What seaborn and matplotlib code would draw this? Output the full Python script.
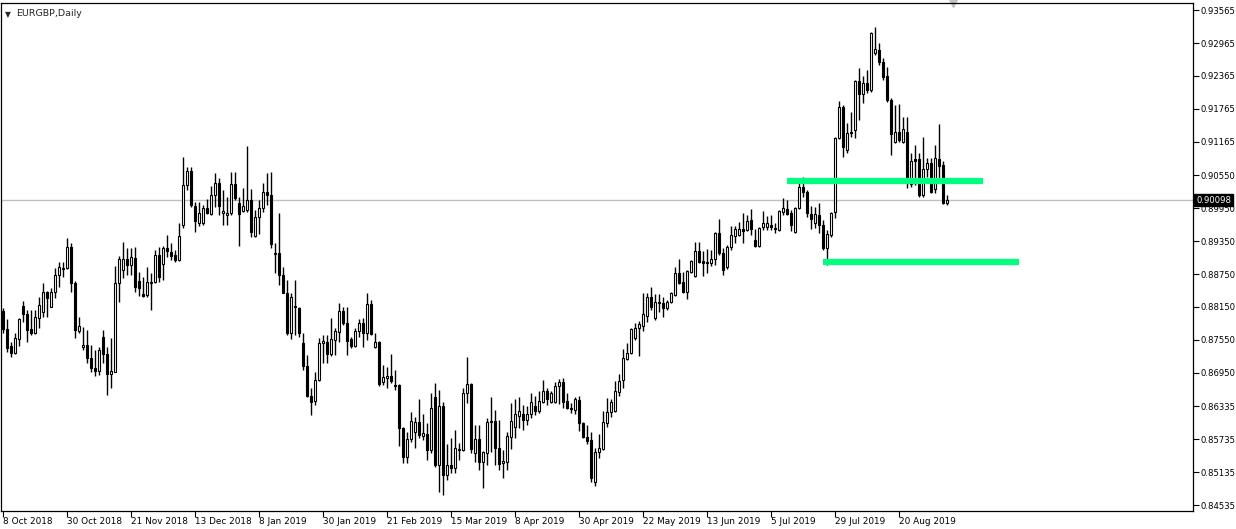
import numpy as np
import pandas as pd
import matplotlib
matplotlib.use("Agg")
import matplotlib.pyplot as plt
import matplotlib.transforms as mtransforms
import seaborn as sns

# EURGBP daily candles, 8 Oct 2018 .. early Sep 2019
opens = [
    .8808, .8775, .8744, .8731, .8757, .8817, .8802, .8775, .8768, .8795,
    .8806, .8842, .8815, .8842, .8873, .8884, .8886, .8924, .8859, .8771,
    .8742, .8746, .8722, .8704, .8698, .8760, .8729, .8693, .8696, .8859,
    .8883, .8903, .8892, .8904, .8862, .8839, .8837, .8859, .8861, .8910,
    .8893, .8923, .8915, .8910, .8901, .8965, .9038, .9063, .8999, .8968,
    .8968, .8996, .8985, .9019, .9041, .8986, .8983, .8986, .9039, .9005,
    .8990, .8992, .9010, .8945, .8979, .8996, .9025, .9019, .8914, .8914,
    .8873, .8841, .8768, .8817, .8813, .8749, .8707, .8653, .8644, .8682,
    .8749, .8751, .8729, .8755, .8769, .8808, .8786, .8757, .8744, .8771,
    .8786, .8768, .8820, .8742, .8751, .8678, .8685, .8689, .8673, .8673,
    .8594, .8541, .8574, .8587, .8605, .8580, .8583, .8554, .8651, .8527,
    .8634, .8509, .8527, .8521, .8554, .8554, .8658, .8675, .8549, .8574,
    .8532, .8549, .8605, .8607, .8558, .8530, .8532, .8578, .8596, .8616,
    .8620, .8609, .8620, .8634, .8625, .8642, .8662, .8642, .8642, .8671,
    .8678, .8644, .8631, .8627, .8645, .8603, .8578, .8572, .8496, .8550,
    .8556, .8603, .8623, .8625, .8660, .8682, .8720, .8731, .8758, .8777,
    .8780, .8799, .8833, .8795, .8824, .8822, .8813, .8824, .8837, .8877,
    .8861, .8842, .8879, .8872, .8917, .8899, .8897, .8895, .8903, .8950,
    .8914, .8888, .8924, .8945, .8946, .8957, .8955, .8974, .8937, .8926,
    .8961, .8961, .8965, .8959, .8955, .8988, .8994, .8986, .8952, .8996,
    .9034, .9025, .8985, .8968, .8983, .8965, .8923, .8946, .8988, .9123,
    .9180, .9101, .9134, .9138, .9227, .9204, .9224, .9211, .9278, .9284,
    .9262, .9236, .9193, .9116, .9134, .9116, .9134, .9039, .9085, .9085,
    .9019, .9067, .9078, .9030, .9085, .9074, .9005,
]
highs = [
    .8813, .8793, .8751, .8768, .8795, .8826, .8810, .8810, .8810, .8833,
    .8859, .8844, .8850, .8886, .8897, .8897, .8941, .8932, .8862, .8797,
    .8779, .8773, .8746, .8737, .8742, .8773, .8742, .8758, .8890, .8908,
    .8934, .8923, .8923, .8924, .8879, .8870, .8888, .8877, .8919, .8924,
    .8926, .8946, .8932, .8919, .8968, .9089, .9070, .9070, .9007, .9007,
    .9001, .9012, .9036, .9059, .9050, .9028, .9016, .9061, .9061, .9016,
    .9032, .9109, .9030, .8992, .9010, .9041, .9059, .9061, .8932, .8986,
    .8888, .8864, .8841, .8864, .8815, .8768, .8727, .8667, .8696, .8758,
    .8764, .8764, .8795, .8777, .8822, .8815, .8815, .8760, .8777, .8793,
    .8795, .8841, .8828, .8768, .8753, .8709, .8706, .8729, .8700, .8675,
    .8596, .8587, .8623, .8614, .8647, .8620, .8603, .8658, .8676, .8664,
    .8642, .8565, .8576, .8591, .8567, .8667, .8724, .8676, .8600, .8600,
    .8552, .8612, .8651, .8627, .8609, .8554, .8587, .8640, .8647, .8651,
    .8636, .8634, .8658, .8653, .8662, .8682, .8667, .8662, .8678, .8684,
    .8685, .8658, .8640, .8651, .8653, .8605, .8600, .8587, .8558, .8583,
    .8625, .8649, .8647, .8680, .8693, .8738, .8749, .8777, .8786, .8790,
    .8841, .8841, .8851, .8839, .8839, .8833, .8828, .8842, .8888, .8903,
    .8879, .8883, .8901, .8934, .8934, .8917, .8921, .8919, .8952, .8976,
    .8923, .8928, .8963, .8963, .8970, .8986, .8983, .8994, .8957, .8961,
    .8990, .8981, .8983, .8968, .8992, .9014, .9010, .8992, .8997, .9050,
    .9052, .9028, .8999, .8997, .9005, .8974, .8955, .8988, .9125, .9191,
    .9183, .9151, .9171, .9229, .9251, .9236, .9247, .9317, .9326, .9297,
    .9269, .9253, .9196, .9183, .9185, .9162, .9162, .9096, .9110, .9096,
    .9125, .9087, .9087, .9110, .9149, .9081, .9019,
]
lows = [
    .8768, .8733, .8724, .8729, .8744, .8788, .8751, .8764, .8766, .8777,
    .8797, .8797, .8815, .8831, .8851, .8870, .8884, .8842, .8758, .8768,
    .8737, .8713, .8696, .8689, .8691, .8713, .8655, .8667, .8696, .8824,
    .8868, .8873, .8873, .8842, .8835, .8833, .8833, .8810, .8859, .8861,
    .8864, .8906, .8901, .8897, .8899, .8959, .9028, .8997, .8952, .8963,
    .8965, .8985, .8983, .8997, .8983, .8965, .8965, .8983, .9010, .8926,
    .8988, .8988, .8943, .8943, .8948, .8988, .9001, .8923, .8877, .8855,
    .8841, .8764, .8757, .8764, .8760, .8700, .8651, .8618, .8636, .8680,
    .8713, .8713, .8726, .8727, .8751, .8782, .8727, .8740, .8742, .8760,
    .8742, .8755, .8764, .8740, .8671, .8673, .8667, .8676, .8664, .8561,
    .8530, .8530, .8569, .8558, .8576, .8572, .8536, .8549, .8523, .8478,
    .8472, .8499, .8512, .8512, .8536, .8552, .8640, .8549, .8532, .8518,
    .8485, .8527, .8550, .8527, .8518, .8503, .8518, .8556, .8576, .8594,
    .8591, .8600, .8612, .8618, .8622, .8640, .8636, .8640, .8640, .8638,
    .8631, .8629, .8622, .8620, .8589, .8576, .8565, .8496, .8488, .8540,
    .8554, .8596, .8614, .8623, .8653, .8667, .8718, .8729, .8755, .8726,
    .8771, .8788, .8810, .8791, .8806, .8797, .8810, .8822, .8835, .8857,
    .8841, .8830, .8877, .8870, .8895, .8872, .8877, .8890, .8892, .8910,
    .8873, .8884, .8919, .8932, .8945, .8932, .8954, .8946, .8924, .8924,
    .8955, .8955, .8955, .8950, .8953, .8983, .8983, .8954, .8950, .8994,
    .9016, .8979, .8957, .8959, .8950, .8919, .8892, .8943, .8977, .9121,
    .9089, .9096, .9125, .9123, .9156, .9187, .9205, .9207, .9275, .9256,
    .9229, .9189, .9092, .9114, .9116, .9114, .9032, .9034, .9038, .9016,
    .9016, .9052, .9023, .9023, .9047, .9003, .9001,
]
closes = [
    .8775, .8740, .8731, .8758, .8793, .8802, .8773, .8768, .8797, .8819,
    .8842, .8831, .8842, .8873, .8888, .8886, .8924, .8859, .8773, .8780,
    .8746, .8722, .8704, .8698, .8737, .8729, .8693, .8698, .8859, .8903,
    .8903, .8892, .8906, .8851, .8850, .8835, .8861, .8861, .8910, .8870,
    .8923, .8917, .8908, .8901, .8945, .9038, .9063, .9001, .8972, .8986,
    .8996, .8986, .9019, .9041, .8999, .8990, .8986, .9039, .9014, .8985,
    .8999, .9010, .8952, .8979, .8996, .9025, .9019, .8930, .8912, .8873,
    .8841, .8768, .8833, .8815, .8768, .8707, .8653, .8642, .8682, .8749,
    .8753, .8729, .8757, .8771, .8808, .8786, .8753, .8744, .8771, .8786,
    .8768, .8820, .8766, .8751, .8675, .8687, .8689, .8680, .8671, .8594,
    .8541, .8574, .8607, .8605, .8581, .8585, .8554, .8631, .8527, .8634,
    .8509, .8527, .8521, .8558, .8556, .8658, .8675, .8556, .8574, .8532,
    .8550, .8605, .8607, .8558, .8529, .8534, .8580, .8607, .8620, .8625,
    .8609, .8620, .8642, .8625, .8644, .8662, .8647, .8658, .8671, .8678,
    .8642, .8631, .8629, .8647, .8603, .8578, .8571, .8503, .8550, .8558,
    .8605, .8623, .8642, .8662, .8680, .8722, .8731, .8775, .8777, .8784,
    .8802, .8833, .8815, .8824, .8822, .8813, .8824, .8841, .8877, .8859,
    .8842, .8881, .8899, .8917, .8897, .8895, .8895, .8903, .8950, .8914,
    .8883, .8924, .8946, .8957, .8957, .8954, .8972, .8957, .8926, .8959,
    .8968, .8968, .8961, .8957, .8990, .8996, .8985, .8965, .8996, .9034,
    .9025, .8986, .8976, .8985, .8965, .8923, .8948, .8986, .9123, .9180,
    .9107, .9132, .9132, .9227, .9204, .9224, .9211, .9315, .9286, .9262,
    .9235, .9193, .9131, .9134, .9120, .9140, .9041, .9081, .9081, .9019,
    .9067, .9078, .9025, .9087, .9072, .9005, .9010,
]

date_labels = ["8 Oct 2018", "30 Oct 2018", "21 Nov 2018", "13 Dec 2018",
               "8 Jan 2019", "30 Jan 2019", "21 Feb 2019", "15 Mar 2019",
               "8 Apr 2019", "30 Apr 2019", "22 May 2019", "13 Jun 2019",
               "5 Jul 2019", "29 Jul 2019", "20 Aug 2019"]
date_label_bars = [0, 16, 32, 48, 64, 80, 96, 112, 128, 144, 160, 176, 192, 208, 224]

price_labels = ["0.93565", "0.92965", "0.92365", "0.91765", "0.91165", "0.90550",
                "0.89950", "0.89350", "0.88750", "0.88150", "0.87550", "0.86950",
                "0.86335", "0.85735", "0.85135", "0.84535"]

last_price = 0.90098
# drawn support / resistance rectangles: (price, first bar, last bar)
levels = [(0.9045, 196, 245), (0.8897, 205, 254)]

df = pd.DataFrame({"open": opens, "high": highs, "low": lows, "close": closes})
df["bar"] = np.arange(len(df))
df["up"] = df["close"] >= df["open"]
df["body_lo"] = df[["open", "close"]].min(axis=1)
df["body_h"] = (df["close"] - df["open"]).abs()

sns.set_style("white")
plt.rcParams["font.family"] = ["DejaVu Sans"]

fig = plt.figure(figsize=(12.36, 5.29), dpi=100)
ax = fig.add_axes([1 / 1236, 18.5 / 529, 1192 / 1236, 508 / 529])

# wicks then bodies
ax.vlines(df["bar"], df["low"], df["high"], color="black", lw=1.0, zorder=2)
ax.bar(df["bar"], df["body_h"], bottom=df["body_lo"], width=0.55,
       color=np.where(df["up"], "white", "black"), edgecolor="black",
       linewidth=0.8, zorder=3)

# current price line
ax.axhline(last_price, color="#c0c0c0", lw=1, zorder=1)

# green zones
for price, b0, b1 in levels:
    ax.hlines(price, b0, b1, color="#00ff7f", lw=4.5, zorder=4)

ax.set_xlim(-0.5, 297.5)
ax.set_ylim(0.84437, 0.93704)

ax.yaxis.tick_right()
ax.set_yticks([float(p) for p in price_labels])
ax.set_yticklabels(price_labels)
ax.set_xticks(date_label_bars)
ax.set_xticklabels(date_labels)
for lab in ax.get_xticklabels():
    lab.set_horizontalalignment("left")
    lab.set_transform(lab.get_transform() + mtransforms.ScaledTranslation(2 / 100, 0, fig.dpi_scale_trans))
ax.tick_params(axis="both", colors="black", length=4, width=0.8, direction="out")
ax.tick_params(axis="y", left=False, right=True, labelsize=6.1, pad=1.5)
ax.tick_params(axis="x", bottom=True, labelsize=6.4, pad=1)
for s in ax.spines.values():
    s.set_color("black")
    s.set_linewidth(0.9)
ax.grid(False)

# price tag on the right axis
ax.annotate(f"{last_price:.5f}", xy=(1, last_price),
            xycoords=mtransforms.blended_transform_factory(ax.transAxes, ax.transData),
            xytext=(2.2, 0), textcoords="offset points", ha="left", va="center",
            fontsize=6.1, color="white", zorder=10, annotation_clip=False,
            bbox=dict(boxstyle="square,pad=0.2", fc="black", ec="black"))

# chart caption and shift marker
ax.text(0.003, 0.986, "\u25bc", transform=ax.transAxes, fontsize=5.5, va="top", ha="left")
ax.text(0.0125, 0.988, "EURGBP,Daily", transform=ax.transAxes, fontsize=6.8,
        va="top", ha="left")
ax.plot([237.5], [1.0], marker="v", color="#c0c0c0", markersize=6, clip_on=False,
        transform=mtransforms.blended_transform_factory(ax.transData, ax.transAxes))

fig.savefig("out.png", dpi=100)
